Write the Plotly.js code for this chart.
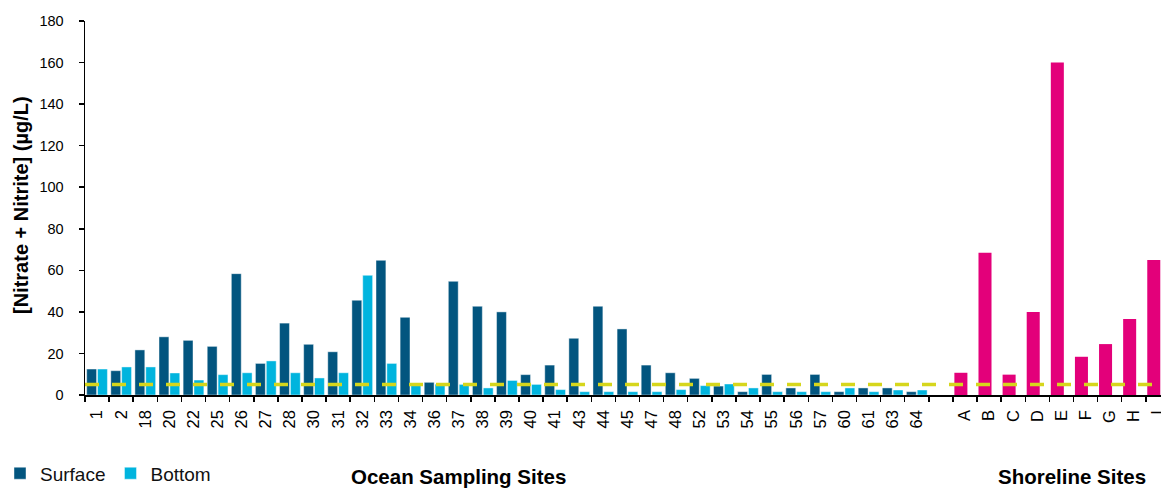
<!DOCTYPE html>
<html>
<head>
<meta charset="utf-8">
<script src="https://cdn.plot.ly/plotly-3.0.1.min.js"></script>
<style>
  html, body { margin: 0; padding: 0; background: #ffffff; }
  #chart { width: 1161px; height: 488px; }
</style>
</head>
<body>
<div id="chart"></div>
<script>
// Ocean sampling sites (surface and bottom samples)
const oceanSites = ['1','2','18','20','22','25','26','27','28','30','31','32','33','34','36','37','38','39','40','41','43','44','45','47','48','52','53','54','55','56','57','60','61','63','64'];
const surfaceValues = [12.5,11.7,21.7,28,26.3,23.4,58.4,15.2,34.6,24.4,20.8,45.6,64.8,37.4,6.1,54.7,42.7,40,9.8,14.4,27.3,42.7,31.8,14.4,10.7,8,4.3,1.6,9.9,3.4,9.9,1.6,3.4,3.4,1.6];
const bottomValues = [12.5,13.5,13.5,10.6,7.2,9.8,10.7,16.4,10.7,8.2,10.7,57.6,15.2,5.2,5.2,5.1,3.4,7,5.1,2.6,1.6,1.6,1.6,1.6,2.6,4.5,5.3,3.4,1.6,1.6,1.6,3.4,1.6,2.4,2.4];

// Shoreline sites
const shoreSites = ['A','B','C','D','E','F','G','H','I'];
const shoreValues = [10.7,68.5,9.8,40,160,18.4,24.5,36.6,65];

// Spacer category separating the two site groups
const spacer = [' '];

// Reference level drawn as a dashed line
const thresholdValue = 5;

const allCategories = oceanSites.concat(spacer, shoreSites);

const FONT = 'Liberation Sans, Arial, sans-serif';
const DARK = '#02557f';
const CYAN = '#00b4de';
const PINK = '#e3007a';

const traces = [
  {
    type: 'bar', name: 'Surface', x: oceanSites, y: surfaceValues,
    offset: -0.43, width: 0.41,
    marker: { color: DARK, line: { color: 'rgba(255,255,255,0.55)', width: 0.8 } },
    hoverinfo: 'x+y'
  },
  {
    type: 'bar', name: 'Bottom', x: oceanSites, y: bottomValues,
    offset: 0.02, width: 0.41,
    marker: { color: CYAN, line: { color: 'rgba(255,255,255,0.55)', width: 0.8 } },
    hoverinfo: 'x+y'
  },
  {
    type: 'bar', name: 'Shoreline', x: shoreSites, y: shoreValues,
    offset: -0.44, width: 0.54, showlegend: false,
    marker: { color: PINK },
    hoverinfo: 'x+y'
  }
];

const layout = {
  width: 1161, height: 488,
  margin: { l: 85, r: 0, t: 21, b: 93 },
  paper_bgcolor: '#ffffff', plot_bgcolor: '#ffffff',
  barmode: 'overlay',
  showlegend: true,
  legend: {
    orientation: 'h', xref: 'container', yref: 'container',
    x: 0, y: 0.03, xanchor: 'left', yanchor: 'middle',
    font: { family: FONT, size: 19, color: '#111111' },
    itemwidth: 30, tracegroupgap: 0, bgcolor: 'rgba(0,0,0,0)'
  },
  xaxis: {
    type: 'category', categoryorder: 'array', categoryarray: allCategories,
    range: [-0.5, 44.13],
    tickson: 'boundaries', ticks: 'outside', ticklen: 5, tickwidth: 1.5, tickcolor: '#000',
    showline: true, linecolor: '#000', linewidth: 1.5,
    showgrid: false, zeroline: false,
    tickangle: -90, ticklabelstandoff: 7,
    tickfont: { family: FONT, size: 16.5, color: '#000' },
    fixedrange: true
  },
  yaxis: {
    range: [0, 180], dtick: 20, tick0: 0,
    ticks: 'outside', ticklen: 5, tickwidth: 1.5, tickcolor: '#000',
    showline: true, linecolor: '#000', linewidth: 1.5,
    showgrid: false, zeroline: false, ticklabelstandoff: 12,
    tickfont: { family: FONT, size: 14.5, color: '#000' },
    fixedrange: true
  },
  shapes: [
    {
      type: 'line', xref: 'paper', yref: 'y',
      x0: 0, x1: 1, y0: thresholdValue, y1: thresholdValue,
      line: { color: '#d6d61c', width: 3.5, dash: '14px,13px' },
      layer: 'above'
    }
  ],
  annotations: [
    {
      text: '<b>[Nitrate + Nitrite] (µg/L)</b>', textangle: -90,
      xref: 'paper', yref: 'paper', x: -0.0595, y: 0.508,
      xanchor: 'center', yanchor: 'middle', showarrow: false,
      font: { family: FONT, size: 20, color: '#000' }
    },
    {
      text: '<b>Ocean Sampling Sites</b>',
      xref: 'paper', yref: 'paper', x: 0.3475, y: -0.218,
      xanchor: 'center', yanchor: 'middle', showarrow: false,
      font: { family: FONT, size: 20.5, color: '#000' }
    },
    {
      text: '<b>Shoreline Sites</b>',
      xref: 'paper', yref: 'paper', x: 0.917, y: -0.218,
      xanchor: 'center', yanchor: 'middle', showarrow: false,
      font: { family: FONT, size: 20.5, color: '#000' }
    }
  ]
};

Plotly.newPlot('chart', traces, layout, { displayModeBar: false, staticPlot: true });
</script>
</body>
</html>
